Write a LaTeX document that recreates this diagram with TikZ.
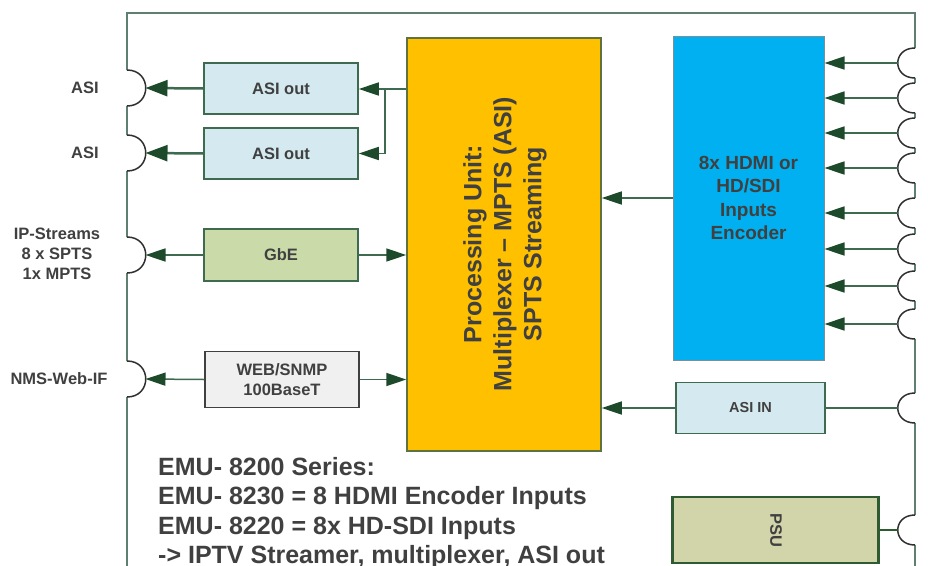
\documentclass[tikz,border=0pt]{standalone}
\usepackage{fontspec}
\setmainfont{Liberation Sans}
\usetikzlibrary{arrows.meta}
\definecolor{framec}{HTML}{5F8070}
\definecolor{lnk}{HTML}{3E6B50}
\definecolor{tipc}{HTML}{1D4A2A}
\definecolor{txt}{HTML}{404040}
\definecolor{orng}{HTML}{FFC000}
\definecolor{orngb}{HTML}{5E7340}
\definecolor{encb}{HTML}{00B0F0}
\definecolor{encbd}{HTML}{7A9098}
\definecolor{ltblue}{HTML}{D5EAF0}
\definecolor{gbec}{HTML}{CADBA9}
\definecolor{webc}{HTML}{F0F0F0}
\definecolor{psuc}{HTML}{D2D4AA}
\definecolor{psub}{HTML}{2E5B32}
\definecolor{connc}{HTML}{303030}
\begin{document}
\begin{tikzpicture}[x=1pt,y=-1pt,
  box/.style={draw=lnk, line width=1.5pt, inner sep=0pt, text=txt, align=center,
    font=\fontsize{16.5}{20}\selectfont\bfseries},
  lbl/.style={text=txt, align=center, inner sep=0pt, font=\fontsize{16.5}{20}\selectfont\bfseries},
  arr/.style={draw=lnk, line width=1.5pt, -{Triangle[length=20pt,width=13pt,color=tipc]}},
  arrthick/.style={draw=lnk, line width=2.5pt, -{Triangle[length=22pt,width=16pt,color=tipc]}},
  conn/.style={draw=connc, line width=1.5pt},
  eraser/.style={draw=white, line width=4pt},
  infotxt/.style={text=txt, anchor=base west, inner sep=0pt, font=\fontsize{25}{30}\selectfont\bfseries}
]
\clip (0,0) rectangle (928,565);
\fill[white] (0,0) rectangle (928,565);

% frame
\draw[framec, line width=1.5pt] (127,566) -- (127,13) -- (915,13) -- (915,566);

% left connectors
\foreach \n/\y in {1/88,2/153,3/255,4/379}{
  \draw[eraser] (127,\y-18) -- (127,\y+18);
  \draw[conn] (127,\y-18) .. controls (152,\y-18) and (152,\y+18) .. (127,\y+18);
  \coordinate (l\n) at (145.5,\y);
}
% right connectors
\foreach \n/\y in {1/63,2/98,3/133,4/168,5/213,6/249,7/286,8/324,9/408,10/530}{
  \draw[eraser] (915,\y-15) -- (915,\y+15);
  \draw[conn] (915,\y-15) .. controls (892,\y-15) and (892,\y+15) .. (915,\y+15);
  \coordinate (r\n) at (897.8,\y);
}

% main blocks
\node[box, fill=orng, draw=orngb, minimum width=194pt, minimum height=413pt] (proc) at (504,244.5) {};
\node[lbl, rotate=90, font=\fontsize{25}{30}\selectfont\bfseries] (proctxt) at (505,244)
  {Processing Unit:\\Multiplexer – MPTS (ASI)\\SPTS Streaming};
\node[box, fill=encb, draw=encbd, line width=1pt, minimum width=151pt, minimum height=324pt,
  font=\fontsize{19}{23.3}\selectfont\bfseries] (enc) at (748.5,198) {8x HDMI or\\HD/SDI\\Inputs\\Encoder};
\node[box, fill=ltblue, minimum width=149pt, minimum height=51pt,
  font=\fontsize{14.5}{17}\selectfont\bfseries] (asiin) at (750.5,408) {ASI IN};
\node[box, fill=psuc, draw=psub, line width=2.5pt, minimum width=206pt, minimum height=66pt] (psu) at (775.5,530) {};
\node[lbl, rotate=-90, font=\fontsize{16.5}{20}\selectfont\bfseries] (psutxt) at (776,530) {PSU};

\node[box, fill=ltblue, minimum width=154pt, minimum height=51pt] (ao1) at (281,88.5) {ASI out};
\node[box, fill=ltblue, minimum width=154pt, minimum height=51pt] (ao2) at (281,153.5) {ASI out};
\node[box, fill=gbec, minimum width=154pt, minimum height=52pt] (gbe) at (281,255) {GbE};
\node[box, fill=webc, draw=txt, minimum width=154pt, minimum height=56pt] (web) at (282,379.5) {WEB/SNMP\\100BaseT};

% left labels
\node[lbl] (tasi1) at (85,88) {ASI};
\node[lbl] (tasi2) at (85,153) {ASI};
\node[lbl] (tip) at (57,254) {IP-Streams\\8 x SPTS\\1x MPTS};
\node[lbl] (tnms) at (59,379) {NMS-Web-IF};

% bottom text
\node[infotxt] (info1) at (158,475) {EMU- 8200 Series:};
\node[infotxt] (info2) at (158,504.5) {EMU- 8230 = 8 HDMI Encoder Inputs};
\node[infotxt] (info3) at (158,534) {EMU- 8220 = 8x HD-SDI Inputs};
\node[infotxt] (info4) at (158,563.5) {-> IPTV Streamer, multiplexer, ASI out};

% mains label (cut by the edge)
\node[lbl, rotate=-90, font=\fontsize{13}{15}\selectfont\bfseries] (mains) at (933,530) {Mains};

% connectors: right inputs into encoder
\foreach \n in {1,...,8}{
  \draw[arr] (r\n) -- (r\n -| enc.east);
}
\draw[arr] (enc.west) -- (enc.west -| proc.east);
\draw[lnk, line width=1.5pt] (r9) -- (r9 -| asiin.east);
\draw[arr] (asiin.west) -- (asiin.west -| proc.east);
\draw[psub, line width=2.5pt] (psu.east) -- (r10);

% left side
\draw[arrthick] (ao1.west) -- (l1);
\draw[arrthick] (ao2.west) -- (l2);
\coordinate (br) at (385,89);
\draw[arr] (proc.west |- br) -- (br -| ao1.east);
\draw[arr] (br) -- (br |- ao2.east) -- (ao2.east);
\draw[arr] (gbe.west) -- (l3);
\draw[arr] (gbe.east) -- (gbe.east -| proc.west);
\draw[arr] (web.west) -- (l4);
\draw[arr] (web.east) -- (web.east -| proc.west);
\end{tikzpicture}
\end{document}
